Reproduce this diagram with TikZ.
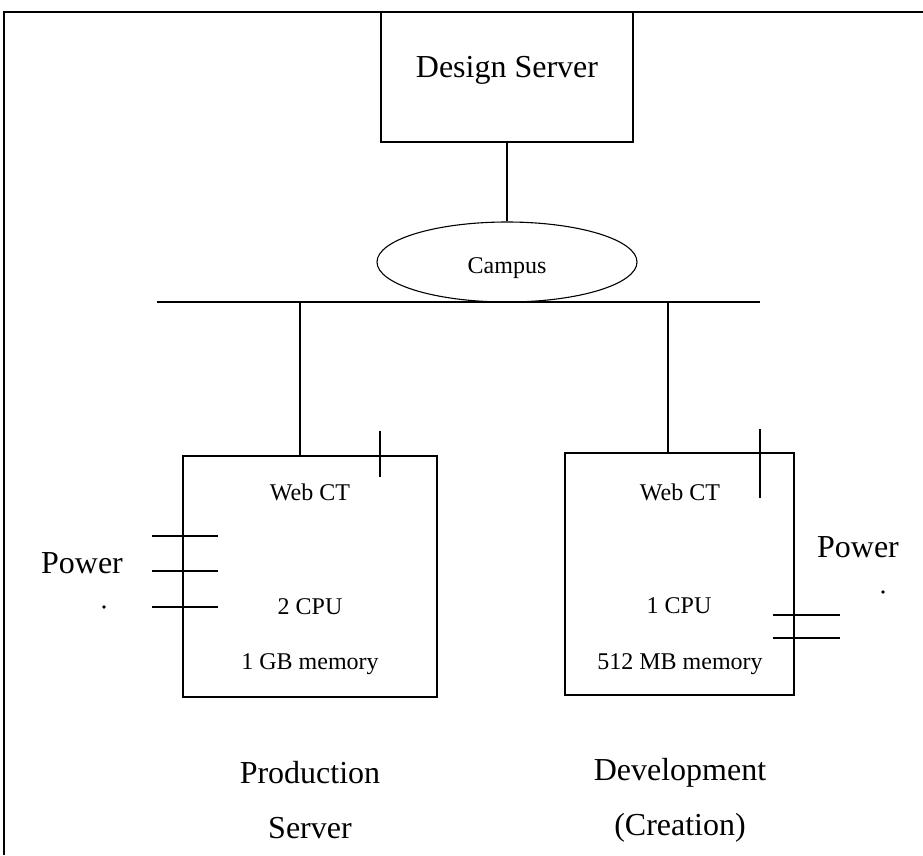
\documentclass[tikz,border=0pt]{standalone}
\usepackage{fontspec}
\setmainfont{Liberation Serif}
\usepackage{tikz}
\usetikzlibrary{positioning, shapes.geometric}

\begin{document}
\begin{tikzpicture}[x=1pt, y=-1pt, line width=1.1pt,
	box/.style={draw, rectangle, inner sep=0pt},
	bigtext/.style={draw=none, text=black, inner sep=0pt, font=\fontsize{32}{38}\selectfont},
	smalltext/.style={draw=none, text=black, inner sep=0pt, font=\fontsize{24}{29}\selectfont}]
	
	\useasboundingbox (0,0) rectangle (923,855);
	
	% frame
	\draw (4,855) -- (4,12) -- (923,12);
	
	\node[box, minimum width=252, minimum height=130] (design) at (507,77) {};
	\node[bigtext] (designlbl) at (507,70) {Design Server};
	
	\node[draw, ellipse, minimum width=260, minimum height=80, inner sep=0pt] (campus) at (507,262) {};
	\node[smalltext] (campuslbl) at (507,268) {Campus};
	\draw (design.south) -- (campus.north);
	
	\coordinate (busL) at (157,302);
	\coordinate (busR) at (760,302);
	\draw (busL) -- (busR);
	
	\pgfmathsetmacro{\prodw}{254}
	\pgfmathsetmacro{\devw}{229}
	\node[box, minimum width=\prodw, minimum height=241] (prod) at (310,576.5) {};
	\node[box, minimum width=\devw, minimum height=242] (dev) at (679.5,574) {};
	
	\coordinate (tapP) at (300,302);
	\coordinate (tapD) at (668,302);
	\draw (tapP) -- (tapP |- prod.north);
	\draw (tapD) -- (tapD |- dev.north);
	
	% ticks on the box tops
	\draw ([xshift=70]prod.north) ++(0,-24) -- ++(0,46);
	\draw ([xshift=80.5]dev.north) ++(0,-23) -- ++(0,69);
	
	% power leads
	\foreach \yy in {536,571,607} \draw (152,\yy) -- (218,\yy);
	\foreach \yy in {615,638} \draw (773,\yy) -- (840,\yy);
	
	\node[bigtext] (powerP) at (82,563) {Power};
	\node[bigtext] (powerD) at (858,547) {Power};
	\fill (104,607) circle (1.8);
	\fill (883,592) circle (1.8);
	
	\node[smalltext] (webP) at (310,492) {Web CT};
	\node[smalltext] (cpuP) at (310,607) {2 CPU};
	\node[smalltext] (memP) at (310,664) {1 GB memory};
	
	\node[smalltext] (webD) at (680,492) {Web CT};
	\node[smalltext] (cpuD) at (679,606) {1 CPU};
	\node[smalltext] (memD) at (680,664) {512 MB memory};
	
	\node[bigtext] (prodA) at (310,773) {Production};
	\node[bigtext] (prodB) at (310,828) {Server};
	\node[bigtext] (devA) at (680,773) {Development};
	\node[bigtext] (devB) at (680,828) {(Creation)};
\end{tikzpicture}
\end{document}
